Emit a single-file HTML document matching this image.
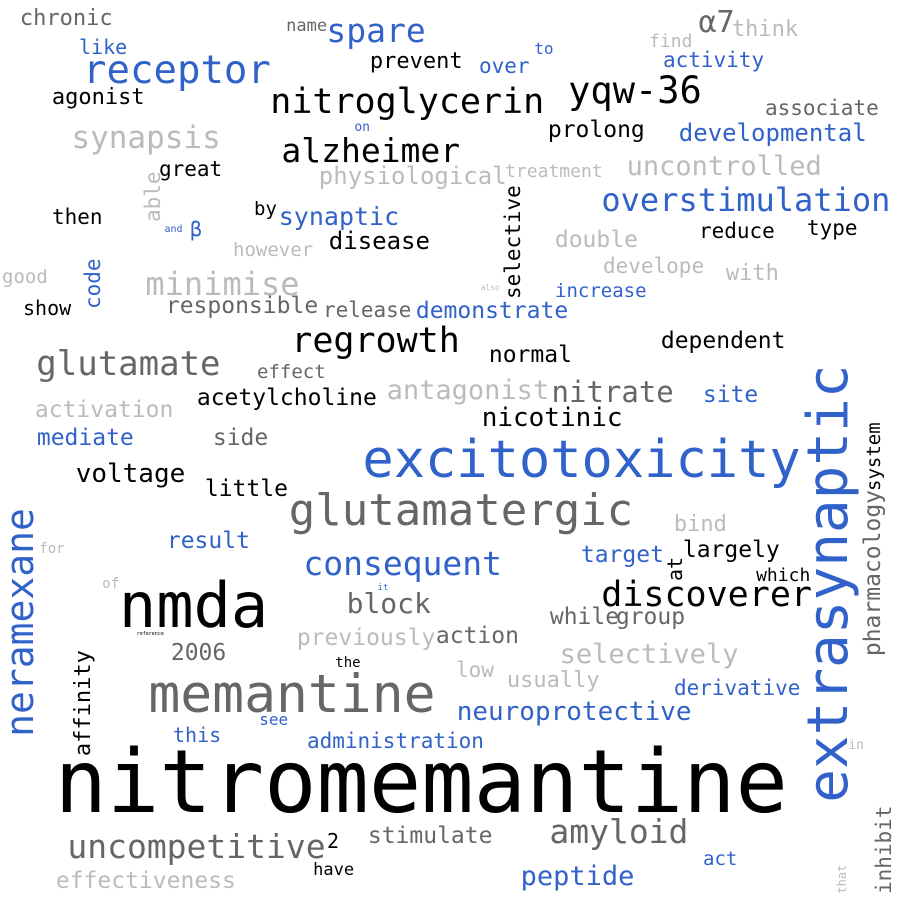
<!DOCTYPE html>
<html><head><meta charset="utf-8"><style>
html,body{margin:0;padding:0;background:#fff;}
svg{display:block;}
text{font-family:"DejaVu Sans Mono","Liberation Mono",monospace;}
</style></head><body>
<svg id="cloud" width="900" height="900" viewBox="0 0 900 900" xmlns="http://www.w3.org/2000/svg">
<rect width="900" height="900" fill="#fff"/>
</svg>
<script>
const words = ["chronic","name","spare","like","receptor","prevent","agonist","nitroglycerin","over","to","yqw-36","find","α7","think","activity","associate","synapsis","on","alzheimer","prolong","developmental","great","physiological","treatment","uncontrolled","able","then","and","β","by","synaptic","however","disease","selective","overstimulation","double","reduce","type","develope","with","also","increase","good","code","minimise","show","responsible","release","demonstrate","regrowth","normal","dependent","glutamate","effect","acetylcholine","antagonist","nitrate","site","activation","nicotinic","mediate","side","excitotoxicity","extrasynaptic","pharmacology","system","voltage","little","glutamatergic","bind","neramexane","for","result","consequent","target","at","largely","which","of","it","nmda","discoverer","block","reference","while","group","previously","action","2006","selectively","the","affinity","memantine","low","usually","derivative","see","this","neuroprotective","administration","in","nitromemantine","uncompetitive","2","stimulate","amyloid","act","have","effectiveness","peptide","that","inhibit"];
const xs = [21,287,328,80,85,371,53,272,480,535,570,650,700,733,664,766,73,355,283,549,680,160,320,506,628,160,53,165,191,255,280,234,330,520,603,556,700,808,604,727,481,556,3,100,147,24,167,324,417,293,490,662,38,258,198,388,553,704,36,483,38,214,365,847,880,880,77,206,291,675,33,40,168,305,582,682,684,757,103,378,122,603,348,137,551,617,298,437,172,561,336,90,151,457,508,675,260,174,458,308,849,59,69,328,369,551,704,314,57,522,846,891];
const ys = [25,31,42,54,83,68,104,113,73,54,103,47,32,36,67,115,148,131,162,137,141,176,184,177,175,221,224,232,236,215,225,256,249,298,211,247,238,235,273,280,290,297,283,308,295,315,313,317,318,352,362,348,375,378,405,399,402,402,417,426,445,445,477,800,655,490,482,496,525,531,735,553,548,575,562,580,557,581,588,590,627,606,613,635,624,624,645,643,660,663,667,755,712,677,687,695,725,742,720,748,749,812,858,848,843,843,865,875,888,885,893,893];
const sizes = [22,17,33,20,39,22,22,35,21,16,37,18,30,22,21,21,31,13,33,23,24,21,24,18,27,21,21,10,20,19,25,19,24,21,32,23,21,21,21,22,8,19,19,21,32,20,23,21,23,35,23,23,34,19,23,27,29,23,23,26,23,23,52,56,23,19,26,23,44,22,38,14,23,33,23,20,23,18,14,9,62,35,28,5,23,23,23,23,23,27,14,22,53,21,22,21,16,20,26,21,13,87,33,20,23,33,19,17,23,27,12,21];
const colorCodes = ["d","d","b","b","b","k","k","k","b","b","k","l","d","l","b","d","l","b","k","k","b","k","l","l","l","l","k","b","b","k","b","l","k","k","b","l","k","k","l","l","l","b","l","b","l","k","d","d","b","k","k","k","d","d","k","l","d","b","l","k","b","d","b","b","d","k","k","k","d","l","b","l","b","b","b","k","k","k","l","b","k","k","d","k","d","d","l","d","d","l","k","k","d","l","l","b","b","b","b","b","l","k","d","k","d","d","b","k","l","b","l","d"];
const palette = {k:"#000000", d:"#666666", l:"#bbbbbb", b:"#3162c9"};
const verticalWords = ["able","selective","code","extrasynaptic","pharmacology","system","neramexane","at","affinity","that","inhibit"];

const svg = document.getElementById('cloud');
const NS = "http://www.w3.org/2000/svg";
for (let i = 0; i < words.length; i++) {
  const t = document.createElementNS(NS, 'text');
  const w = words[i], fs = sizes[i];
  t.textContent = w;
  t.setAttribute('font-size', fs);
  t.setAttribute('fill', palette[colorCodes[i]] || "#000");
  if (verticalWords.indexOf(w) >= 0) {
    t.setAttribute('transform', 'translate(' + xs[i] + ',' + (ys[i] + 0.05 * fs) + ') rotate(-90)');
  } else {
    t.setAttribute('x', xs[i] - 0.05 * fs);
    t.setAttribute('y', ys[i]);
  }
  
  
  svg.appendChild(t);
}
</script>
</body></html>
